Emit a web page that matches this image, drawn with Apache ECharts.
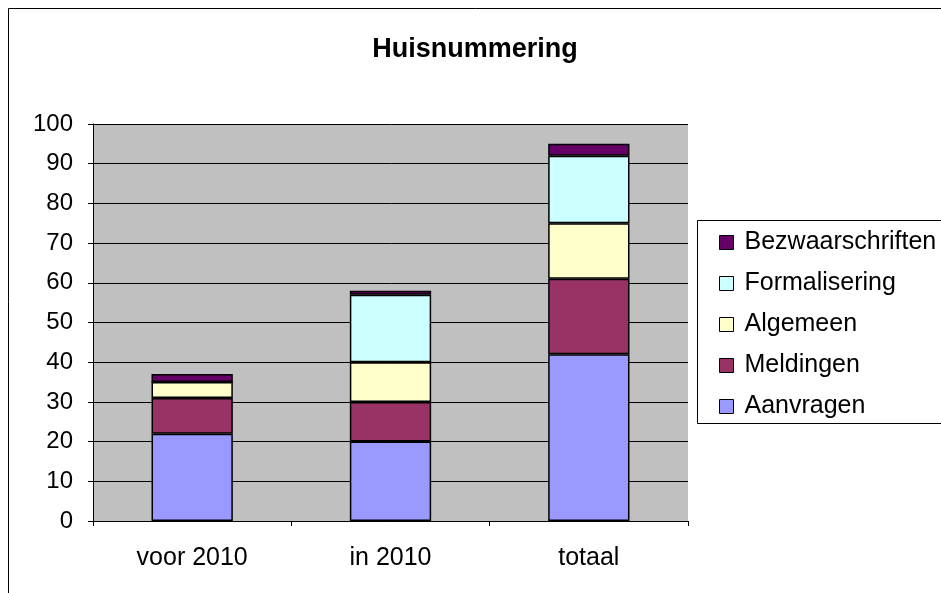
<!DOCTYPE html>
<html>
<head>
<meta charset="utf-8">
<style>
  html, body { margin: 0; padding: 0; background: #fff; }
  #chart { width: 941px; height: 593px; }
</style>
<script src="https://cdn.jsdelivr.net/npm/echarts@6/dist/echarts.min.js"></script>
</head>
<body>
<div id="chart"></div>
<script>
var categories = ['voor 2010', 'in 2010', 'totaal']
var seriesNames = ['Aanvragen', 'Meldingen', 'Algemeen', 'Formalisering', 'Bezwaarschriften']
var aanvragen = [22, 20, 42]
var meldingen = [9, 10, 19]
var algemeen = [4, 10, 14]
var formalisering = [0, 17, 17]
var bezwaarschriften = [2, 1, 3]
var colors = ['#9999FF', '#993366', '#FFFFCC', '#CCFFFF', '#660066']

var values = [aanvragen, meldingen, algemeen, formalisering, bezwaarschriften]

var chart = echarts.init(document.getElementById('chart'))
var font = 'Liberation Sans, Arial, sans-serif'

chart.setOption({
  animation: false,
  backgroundColor: '#fff',
  color: colors,
  title: {
    text: 'Huisnummering',
    left: 470,
    textAlign: 'center',
    top: 31,
    textStyle: { fontFamily: font, fontSize: 27, fontWeight: 'bold', color: '#000' }
  },
  graphic: [
    {
      type: 'rect',
      shape: { x: 8.5, y: 8.5, width: 1000, height: 1000 },
      style: { fill: null, stroke: '#000', lineWidth: 1 },
      silent: true
    },
    {
      type: 'rect',
      shape: { x: 697.5, y: 220.5, width: 300, height: 203 },
      style: { fill: '#fff', stroke: '#000', lineWidth: 1 },
      z: -1,
      silent: true
    }
  ],
  legend: {
    orient: 'vertical',
    left: 719,
    top: 230,
    padding: 0,
    itemWidth: 14,
    itemHeight: 14,
    itemGap: 16,
    icon: 'rect',
    data: seriesNames.slice().reverse(),
    textStyle: { fontFamily: font, fontSize: 25, color: '#000', padding: [0, 0, 0, 6] },
    itemStyle: { borderColor: '#000', borderWidth: 1 }
  },
  grid: {
    left: 93,
    top: 124,
    width: 595,
    height: 397,
    show: true,
    backgroundColor: '#C0C0C0',
    borderWidth: 0
  },
  xAxis: {
    type: 'category',
    data: categories,
    axisLine: { lineStyle: { color: '#000', width: 1 } },
    axisTick: { show: true, length: 5, lineStyle: { color: '#000' } },
    axisLabel: { fontFamily: font, fontSize: 25, color: '#000', margin: 25 }
  },
  yAxis: {
    type: 'value',
    min: 0,
    max: 100,
    interval: 10,
    axisLine: { show: true, lineStyle: { color: '#000', width: 1 } },
    axisTick: { show: true, length: 5, lineStyle: { color: '#000' } },
    axisLabel: { fontFamily: font, fontSize: 24, color: '#000', margin: 20 },
    splitLine: { show: true, lineStyle: { color: '#000', width: 1 } }
  },
  series: seriesNames.map(function (name, i) {
    return {
      name: name,
      type: 'bar',
      stack: 'total',
      barWidth: '41%',
      data: values[i],
      itemStyle: { borderColor: '#000', borderWidth: 1.5 }
    }
  })
})
</script>
</body>
</html>
